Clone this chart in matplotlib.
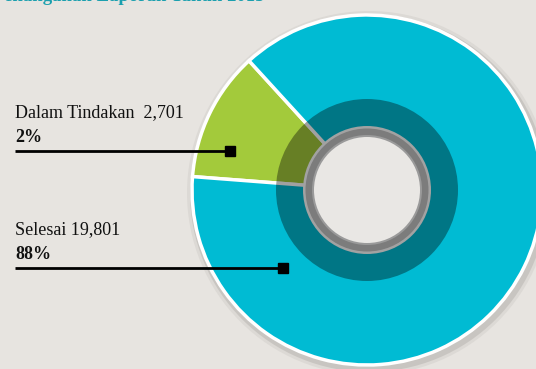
import matplotlib
matplotlib.use("Agg")
import matplotlib.pyplot as plt
from matplotlib.patches import Circle

# status counts
labels = ["Dalam Tindakan", "Selesai"]
counts = [2701, 19801]
pct_text = ["2%", "88%"]
colors = ["#a3ca3b", "#00bbd3"]

bg = "#e7e4e0"
W, H = 536, 369
cx, cy = 367, H - 190
R = 175

fig = plt.figure(figsize=(W / 100, H / 100), dpi=100, facecolor=bg)
ax = fig.add_axes([0, 0, 1, 1])
ax.set_facecolor(bg)

# soft shadow behind the pie
for r, a in [(182, 0.12), (179, 0.25)]:
    ax.add_patch(Circle((cx + 2, cy - 3), r, color="#8f8b86", alpha=a, lw=0, zorder=1))

share = counts[0] / sum(counts)
start = 154 - share * 180
wedges, _ = ax.pie(counts, colors=colors, radius=R, center=(cx, cy),
                   startangle=start, counterclock=True,
                   wedgeprops=dict(edgecolor="white", linewidth=2.5))
for w in wedges:
    w.set_zorder(2)

# darker inner band, gray ring and hole
ax.add_patch(Circle((cx, cy), 91, color="black", alpha=0.37, lw=0, zorder=3))
ax.add_patch(Circle((cx, cy), 64, color="#a2a2a2", lw=0, zorder=4))
ax.add_patch(Circle((cx, cy), 61.5, color="#7c7c7c", lw=0, zorder=4))
ax.add_patch(Circle((cx, cy), 55, color="#9a9a9a", lw=0, zorder=4))
ax.add_patch(Circle((cx, cy), 53, color="#e9e7e4", lw=0, zorder=4))

serif = "Liberation Serif"
ax.text(265, H - 1.2, "Status Penanganan Laporan Tahun 2015", ha="right", va="baseline",
        fontsize=13.5, fontweight="bold", color="#1a9fae", family=serif, zorder=5)

# callouts
rows = [(117, 142, 151, 230), (234, 259, 268, 283)]
for (ty, py, ly, lx), name, n, p in zip(rows, labels, counts, pct_text):
    gap = "  " if name == "Dalam Tindakan" else " "
    ax.text(15, H - ty, f"{name}{gap}{n:,}", fontsize=13, family=serif,
            color="#111111", va="baseline", zorder=5)
    ax.text(15, H - py, p, fontsize=13, family=serif, fontweight="bold",
            color="#111111", va="baseline", zorder=5)
    ax.plot([15, lx], [H - ly, H - ly], color="black", lw=2, zorder=5,
            solid_capstyle="butt")
    ax.plot(lx, H - ly, marker="s", markersize=7.8, color="black", zorder=6)

ax.set_xlim(0, W)
ax.set_ylim(0, H)
ax.set_aspect("equal")
ax.axis("off")

fig.savefig("out.png", dpi=100, facecolor=bg)
